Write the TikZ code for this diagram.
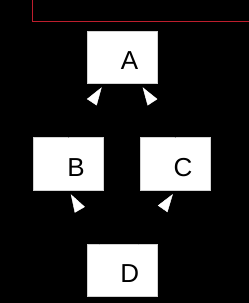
\documentclass[tikz,border=0pt]{standalone}
\usepackage{fontspec}
\setmainfont{Liberation Sans}
\usetikzlibrary{arrows.meta,calc}
\definecolor{framered}{RGB}{190,30,45}
\begin{document}
\begin{tikzpicture}[x=1pt,y=-1pt,
  box/.style={draw=gray!35, fill=white, line width=0.5pt,
    minimum width=69.7pt, minimum height=52.3pt, inner sep=0pt,
    text height=24.6pt, text depth=0pt,
    font=\fontsize{26}{30}\selectfont},
  edge/.style={draw=black, line width=0.4pt, shorten >=4.6pt,
    -{Triangle[length=18pt,width=11.6pt,color=white]}}]
\fill[black] (0,0) rectangle (249,303);
\useasboundingbox (0,0) rectangle (249,303);
\draw[framered, line width=0.8pt] (32.3,0) -- (32.3,21.3) -- (249,21.3);
\node[box] (A) at (122.15,57) {\hspace*{15pt}A};
\node[box] (B) at (68.5,163.85) {\hspace*{15pt}B};
\node[box] (C) at (175.5,163.85) {\hspace*{15pt}C};
\node[box] (D) at (122.15,270.5) {\hspace*{15pt}D};
\draw[edge] (B.north) -- ($(A.south west)!0.245!(A.south east)$);
\draw[edge] (C.north) -- ($(A.south west)!0.756!(A.south east)$);
\draw[edge] ($(D.north west)!0.18!(D.north east)$) -- (B.south);
\draw[edge] ($(D.north west)!0.73!(D.north east)$) -- (C.south);
\end{tikzpicture}
\end{document}
